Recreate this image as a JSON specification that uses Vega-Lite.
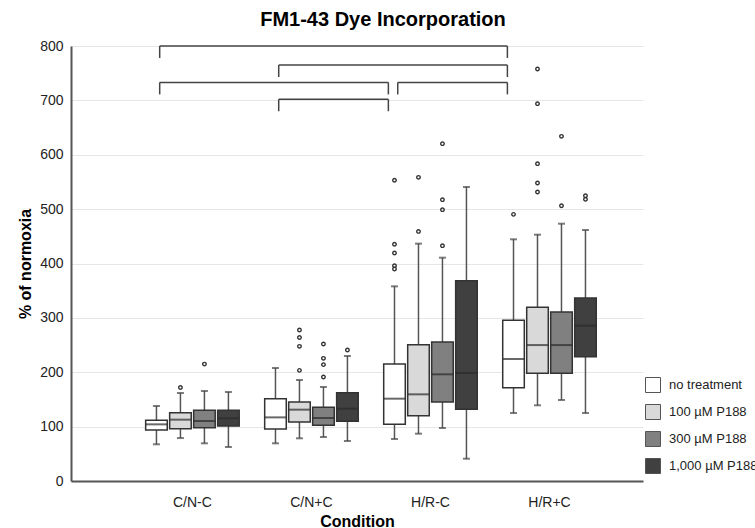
{
  "$schema": "https://vega.github.io/schema/vega-lite/v6.json",
  "width": 572,
  "height": 435,
  "autosize": {"type": "none"},
  "padding": {"left": 71, "top": 46, "right": 112, "bottom": 47},
  "background": "white",
  "title": {"text": "FM1-43 Dye Incorporation", "fontSize": 20, "font": "Liberation Sans", "fontWeight": "bold", "color": "#000", "anchor": "middle", "dx": 26, "offset": 9},
  "config": {
    "view": {"stroke": null},
    "font": "Liberation Sans",
    "axis": {"labelFont": "Liberation Sans", "titleFont": "Liberation Sans", "labelFontSize": 14, "titleFontSize": 16, "titleFontWeight": "bold", "labelColor": "#222", "titleColor": "#000", "domainColor": "#555", "domainWidth": 2, "ticks": false, "gridColor": "#e6e6e6", "gridWidth": 1},
    "axisX": {"grid": false, "labelAngle": 0, "labelPadding": 14, "titlePadding": 4},
    "axisY": {"labelPadding": 8, "titlePadding": 6, "values": [0, 100, 200, 300, 400, 500, 600, 700, 800]},
    "legend": {"orient": "none", "legendX": 574, "legendY": 331, "symbolType": "square", "symbolSize": 225, "symbolStrokeColor": "#555", "symbolStrokeWidth": 1, "labelFont": "Liberation Sans", "labelFontSize": 13, "labelColor": "#222", "labelOffset": 8, "rowPadding": 7, "padding": 0}
  },
  "datasets": {
    "boxes": [
      {"cond": "C/N-C", "trt": "no treatment", "lo": 67.5, "q1": 93.8, "med": 104.2, "q3": 111.6, "hi": 137.9},
      {"cond": "C/N-C", "trt": "100 µM P188", "lo": 79, "q1": 96.3, "med": 112.8, "q3": 125.7, "hi": 161.8},
      {"cond": "C/N-C", "trt": "300 µM P188", "lo": 69.3, "q1": 98, "med": 110.3, "q3": 130, "hi": 165.5},
      {"cond": "C/N-C", "trt": "1,000 µM P188", "lo": 62.5, "q1": 101, "med": 115.3, "q3": 130, "hi": 163.7},
      {"cond": "C/N+C", "trt": "no treatment", "lo": 69.3, "q1": 95.6, "med": 117, "q3": 151.4, "hi": 207.8},
      {"cond": "C/N+C", "trt": "100 µM P188", "lo": 78.5, "q1": 108.5, "med": 131.2, "q3": 145.3, "hi": 185.7},
      {"cond": "C/N+C", "trt": "300 µM P188", "lo": 80.9, "q1": 102.4, "med": 115.9, "q3": 135.5, "hi": 172.9},
      {"cond": "C/N+C", "trt": "1,000 µM P188", "lo": 73.6, "q1": 109.7, "med": 133, "q3": 162.4, "hi": 229.9},
      {"cond": "H/R-C", "trt": "no treatment", "lo": 77.2, "q1": 104.2, "med": 151.4, "q3": 215.2, "hi": 358},
      {"cond": "H/R-C", "trt": "100 µM P188", "lo": 87, "q1": 120.1, "med": 159.4, "q3": 250.7, "hi": 436.5},
      {"cond": "H/R-C", "trt": "300 µM P188", "lo": 97.5, "q1": 145.3, "med": 196.2, "q3": 255.6, "hi": 410.7},
      {"cond": "H/R-C", "trt": "1,000 µM P188", "lo": 41, "q1": 131.8, "med": 198.6, "q3": 368.4, "hi": 540.7},
      {"cond": "H/R+C", "trt": "no treatment", "lo": 125, "q1": 171.6, "med": 224.4, "q3": 295.5, "hi": 444.5},
      {"cond": "H/R+C", "trt": "100 µM P188", "lo": 139.2, "q1": 198, "med": 250, "q3": 319.4, "hi": 453},
      {"cond": "H/R+C", "trt": "300 µM P188", "lo": 149, "q1": 198, "med": 250, "q3": 310.8, "hi": 473.2},
      {"cond": "H/R+C", "trt": "1,000 µM P188", "lo": 125, "q1": 228.6, "med": 285.6, "q3": 336.6, "hi": 461.6}
    ],
    "outliers": [
      {"cond": "C/N-C", "trt": "100 µM P188", "v": 172},
      {"cond": "C/N-C", "trt": "300 µM P188", "v": 215},
      {"cond": "C/N+C", "trt": "100 µM P188", "v": 203.5},
      {"cond": "C/N+C", "trt": "100 µM P188", "v": 247.7},
      {"cond": "C/N+C", "trt": "100 µM P188", "v": 264},
      {"cond": "C/N+C", "trt": "100 µM P188", "v": 277.7},
      {"cond": "C/N+C", "trt": "300 µM P188", "v": 191.3},
      {"cond": "C/N+C", "trt": "300 µM P188", "v": 214},
      {"cond": "C/N+C", "trt": "300 µM P188", "v": 225.6},
      {"cond": "C/N+C", "trt": "300 µM P188", "v": 252},
      {"cond": "C/N+C", "trt": "1,000 µM P188", "v": 241},
      {"cond": "H/R-C", "trt": "no treatment", "v": 389.9},
      {"cond": "H/R-C", "trt": "no treatment", "v": 396},
      {"cond": "H/R-C", "trt": "no treatment", "v": 419.3},
      {"cond": "H/R-C", "trt": "no treatment", "v": 435.3},
      {"cond": "H/R-C", "trt": "no treatment", "v": 553},
      {"cond": "H/R-C", "trt": "100 µM P188", "v": 459},
      {"cond": "H/R-C", "trt": "100 µM P188", "v": 558.5},
      {"cond": "H/R-C", "trt": "300 µM P188", "v": 432.8},
      {"cond": "H/R-C", "trt": "300 µM P188", "v": 499},
      {"cond": "H/R-C", "trt": "300 µM P188", "v": 517.4},
      {"cond": "H/R-C", "trt": "300 µM P188", "v": 620.4},
      {"cond": "H/R+C", "trt": "no treatment", "v": 490.4},
      {"cond": "H/R+C", "trt": "100 µM P188", "v": 531.5},
      {"cond": "H/R+C", "trt": "100 µM P188", "v": 548},
      {"cond": "H/R+C", "trt": "100 µM P188", "v": 583.6},
      {"cond": "H/R+C", "trt": "100 µM P188", "v": 693.9},
      {"cond": "H/R+C", "trt": "100 µM P188", "v": 757.7},
      {"cond": "H/R+C", "trt": "300 µM P188", "v": 506.3},
      {"cond": "H/R+C", "trt": "300 µM P188", "v": 633.9},
      {"cond": "H/R+C", "trt": "1,000 µM P188", "v": 518},
      {"cond": "H/R+C", "trt": "1,000 µM P188", "v": 524.7}
    ],
    "brackets": [
      {"from": "C/N-C", "to": "H/R+C", "level": 800, "drop": 778},
      {"from": "C/N+C", "to": "H/R+C", "level": 765, "drop": 743},
      {"from": "C/N-C", "to": "H/R-C", "level": 733, "drop": 711},
      {"from": "H/R-C", "to": "H/R+C", "level": 733, "drop": 711},
      {"from": "C/N+C", "to": "H/R-C", "level": 702, "drop": 680}
    ]
  },
  "encoding": {
    "x": {"field": "cond", "type": "nominal", "title": "Condition",
      "scale": {"domain": ["C/N-C", "C/N+C", "H/R-C", "H/R+C"], "paddingInner": 0.214, "paddingOuter": 0.51, "align": 0.615}},
    "xOffset": {"field": "trt", "type": "nominal",
      "scale": {"domain": ["no treatment", "100 µM P188", "300 µM P188", "1,000 µM P188"], "paddingInner": 0.1, "paddingOuter": 0}}
  },
  "layer": [
    {
      "data": {"name": "boxes"},
      "mark": {"type": "rule", "color": "#555", "strokeWidth": 1.5},
      "encoding": {
        "y": {"field": "lo", "type": "quantitative", "title": "% of normoxia", "scale": {"domain": [0, 800], "nice": false}},
        "y2": {"field": "hi"}
      }
    },
    {
      "data": {"name": "boxes"},
      "mark": {"type": "bar", "stroke": "#333", "strokeWidth": 1.5},
      "encoding": {
        "y": {"field": "q1", "type": "quantitative", "title": "% of normoxia", "scale": {"domain": [0, 800], "nice": false}},
        "y2": {"field": "q3"},
        "color": {"field": "trt", "type": "nominal", "title": null,
          "scale": {"domain": ["no treatment", "100 µM P188", "300 µM P188", "1,000 µM P188"], "range": ["#ffffff", "#d9d9d9", "#808080", "#404040"]}}
      }
    },
    {
      "data": {"name": "boxes"},
      "mark": {"type": "tick", "color": "#2a2a2a", "size": 21, "thickness": 2},
      "encoding": {
        "y": {"field": "med", "type": "quantitative", "title": "% of normoxia", "scale": {"domain": [0, 800], "nice": false}}
      }
    },
    {
      "data": {"name": "boxes"},
      "mark": {"type": "tick", "color": "#444", "size": 7, "thickness": 2},
      "encoding": {
        "y": {"field": "lo", "type": "quantitative", "title": "% of normoxia", "scale": {"domain": [0, 800], "nice": false}}
      }
    },
    {
      "data": {"name": "boxes"},
      "mark": {"type": "tick", "color": "#444", "size": 7, "thickness": 2},
      "encoding": {
        "y": {"field": "hi", "type": "quantitative", "title": "% of normoxia", "scale": {"domain": [0, 800], "nice": false}}
      }
    },
    {
      "data": {"name": "outliers"},
      "mark": {"type": "point", "filled": false, "color": "#333", "size": 12, "strokeWidth": 1.4, "opacity": 1},
      "encoding": {
        "y": {"field": "v", "type": "quantitative", "title": "% of normoxia", "scale": {"domain": [0, 800], "nice": false}}
      }
    },
    {
      "data": {"name": "brackets"},
      "mark": {"type": "rule", "color": "#444", "strokeWidth": 1.5},
      "encoding": {
        "x": {"field": "from", "type": "nominal", "title": "Condition", "bandPosition": 0.15},
        "x2": {"field": "to", "bandPosition": 0.05},
        "xOffset": null,
        "y": {"field": "level", "type": "quantitative", "title": "% of normoxia", "scale": {"domain": [0, 800], "nice": false}}
      }
    },
    {
      "data": {"name": "brackets"},
      "mark": {"type": "rule", "color": "#444", "strokeWidth": 1.5},
      "encoding": {
        "x": {"field": "from", "type": "nominal", "title": "Condition", "bandPosition": 0.15},
        "xOffset": null,
        "y": {"field": "level", "type": "quantitative", "title": "% of normoxia", "scale": {"domain": [0, 800], "nice": false}},
        "y2": {"field": "drop"}
      }
    },
    {
      "data": {"name": "brackets"},
      "mark": {"type": "rule", "color": "#444", "strokeWidth": 1.5},
      "encoding": {
        "x": {"field": "to", "type": "nominal", "title": "Condition", "bandPosition": 0.05},
        "xOffset": null,
        "y": {"field": "level", "type": "quantitative", "title": "% of normoxia", "scale": {"domain": [0, 800], "nice": false}},
        "y2": {"field": "drop"}
      }
    }
  ]
}
